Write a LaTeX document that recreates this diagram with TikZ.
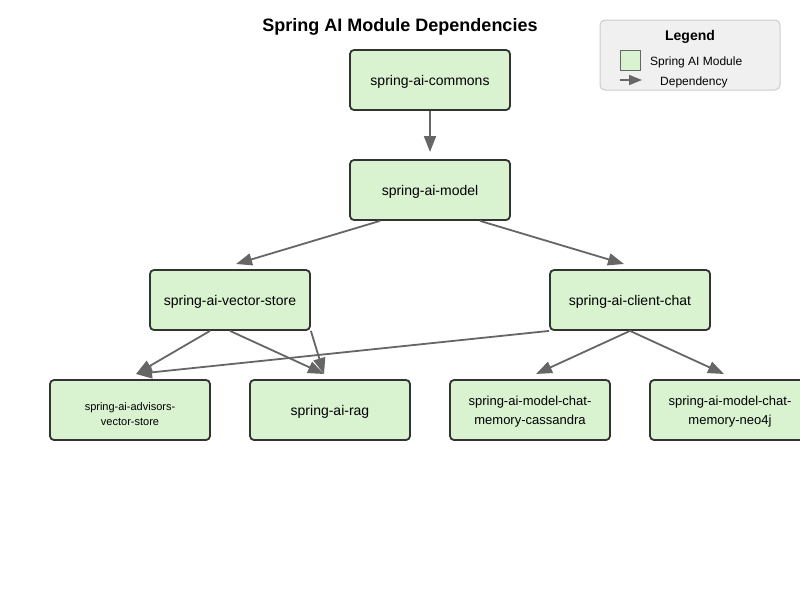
\documentclass[tikz,border=0pt]{standalone}
\usepackage{fontspec}
\setmainfont{Liberation Sans}
\usetikzlibrary{arrows.meta}
\definecolor{boxfill}{HTML}{D9F2D0}
\definecolor{boxdraw}{HTML}{333333}
\definecolor{arr}{HTML}{666666}
\definecolor{legfill}{HTML}{F0F0F0}
\definecolor{legdraw}{HTML}{CCCCCC}
\tikzset{
  module/.style={draw=boxdraw, fill=boxfill, line width=1.8pt, rounded corners=4pt,
    minimum width=160pt, minimum height=60pt, inner sep=0pt},
  modtext/.style={align=center, inner sep=0pt, yshift=-2pt, font=\fontsize{14}{19}\selectfont},
  midtext/.style={align=center, inner sep=0pt, yshift=-2pt, font=\fontsize{13}{19}\selectfont},
  smalltext/.style={align=center, inner sep=0pt, yshift=-4pt, font=\fontsize{11}{15}\selectfont},
  dep/.style={draw=arr, line width=1.8pt, -{Triangle[length=16pt,width=12pt]}},
}
\newcommand\modnode[4]{\node[module] (#1) at #2 {};\node[#4] (#1-t) at (#1) {#3};}
\begin{document}
\begin{tikzpicture}[x=1pt,y=-1pt]
\useasboundingbox (0,0) rectangle (800,600);
\fill[white] (0,0) rectangle (800,600);
\node[font=\bfseries\fontsize{18}{22}\selectfont] (title) at (400,27) {Spring AI Module Dependencies};

% legend
\node[draw=legdraw, fill=legfill, rounded corners=5pt, line width=1pt, minimum width=180pt, minimum height=70pt] (legend) at (690,55) {};
\node[font=\bfseries\fontsize{14}{16}\selectfont] (legtitle) at (690,37) {Legend};
\node[draw=arr, fill=boxfill, line width=1pt, minimum width=20pt, minimum height=20pt, inner sep=0pt] (legbox) at (630,60) {};
\node[anchor=west, font=\fontsize{12}{14}\selectfont, inner sep=0pt] (legmod) at (650,62) {Spring AI Module};
\coordinate (la) at (620,80);
\coordinate (lb) at (642,80);
\draw[draw=arr, line width=1.5pt, -{Triangle[length=13pt,width=10pt]}] (la) -- (lb);
\node[anchor=west, font=\fontsize{12}{14}\selectfont, inner sep=0pt] (legdep) at (660,82) {Dependency};

% modules
\modnode{commons}{(430,80)}{spring-ai-commons}{modtext}
\modnode{model}{(430,190)}{spring-ai-model}{modtext}
\modnode{vs}{(230,300)}{spring-ai-vector-store}{modtext}
\modnode{cc}{(630,300)}{spring-ai-client-chat}{modtext}
\modnode{adv}{(130,410)}{spring-ai-advisors-\\vector-store}{smalltext}
\modnode{rag}{(330,410)}{spring-ai-rag}{modtext}
\modnode{cas}{(530,410)}{spring-ai-model-chat-\\memory-cassandra}{midtext}
\modnode{neo}{(730,410)}{spring-ai-model-chat-\\memory-neo4j}{midtext}

% arrow end points
\coordinate (e1) at (430,152);
\coordinate (e2) at (236,264);
\coordinate (e3) at (624,264);
\coordinate (e4) at (136,374);
\coordinate (e5) at (324,374);
\coordinate (e6) at (536,374);
\coordinate (e7) at (724,374);

\draw[dep] (commons.south) -- (e1);
\draw[dep] ([xshift=-50pt]model.south) -- (e2);
\draw[dep] ([xshift=50pt]model.south) -- (e3);
\draw[dep] ([xshift=-20pt]vs.south) -- (e4);
\draw[dep] (vs.south) -- (e5);
\draw[dep] (vs.south east) -- (e5);
\draw[dep] (cc.south west) -- (e4);
\draw[dep] (cc.south) -- (e6);
\draw[dep] (cc.south) -- (e7);
\end{tikzpicture}
\end{document}
